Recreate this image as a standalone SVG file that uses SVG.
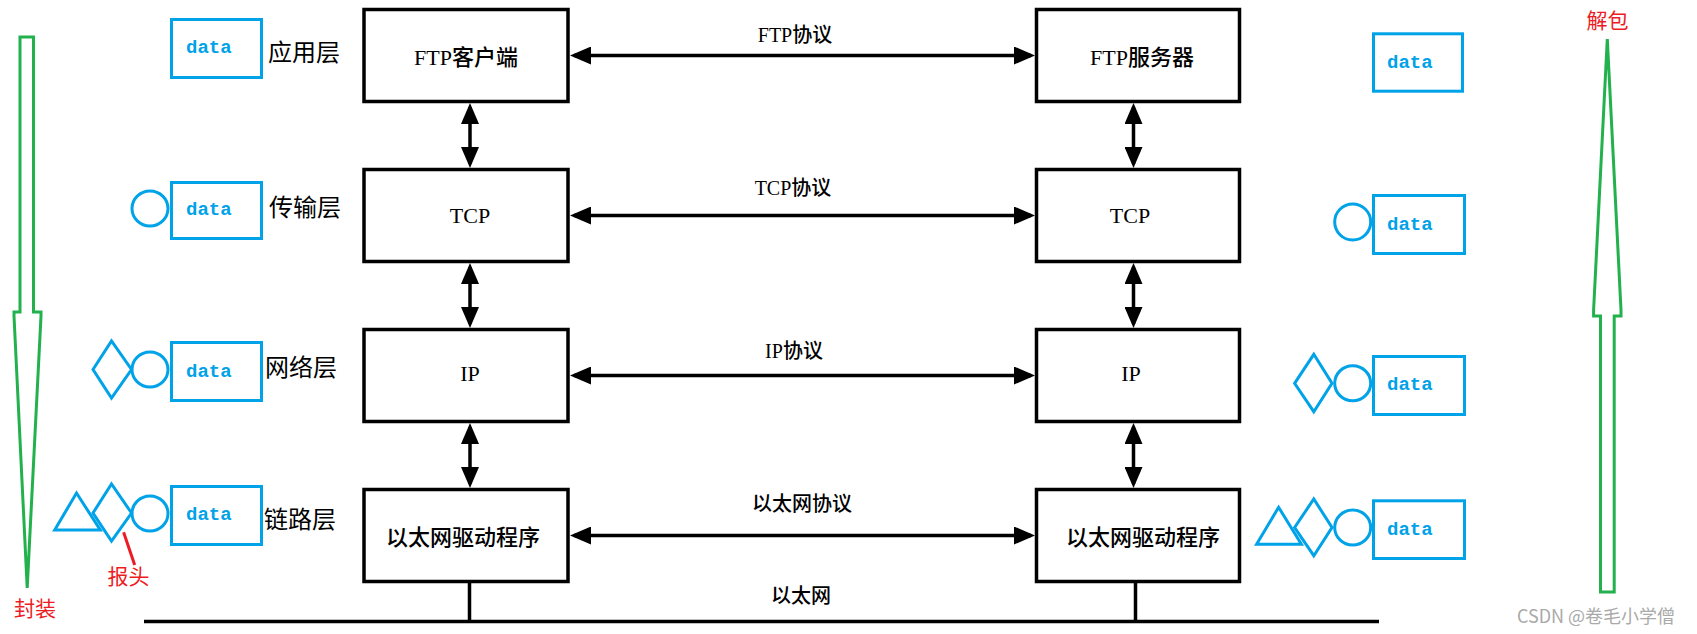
<svg xmlns="http://www.w3.org/2000/svg" width="1697" height="634" viewBox="0 0 1697 634">
<style>
.box{fill:#fff;stroke:#000;stroke-width:3.5}
.conn{stroke:#000;stroke-width:3.5;fill:none}
.blue{fill:none;stroke:#00A2E8;stroke-width:3}
.green{fill:none;stroke:#22B14C;stroke-width:3}
.bt{font-family:"Liberation Serif","Noto Sans CJK SC",serif;font-size:22px;font-weight:500;fill:#000;text-anchor:middle;dominant-baseline:central}
.lbl{font-family:"Liberation Serif","Noto Sans CJK SC",serif;font-size:20px;font-weight:500;fill:#000;text-anchor:middle;dominant-baseline:central}
.layer{font-family:"Liberation Serif","Noto Sans CJK SC",serif;font-size:24px;fill:#000;text-anchor:middle;dominant-baseline:central}
.data{font-family:"Liberation Mono",monospace;font-size:19px;font-weight:bold;fill:#00A2E8}
.red{font-family:"Liberation Serif","Noto Sans CJK SC",serif;font-size:21px;fill:#ED1C24;text-anchor:middle;dominant-baseline:central}
</style>
<defs>
<marker id="ah" markerUnits="userSpaceOnUse" markerWidth="22" markerHeight="18" refX="17" refY="9" orient="auto-start-reverse" viewBox="0 0 22 18">
<path d="M0,0 L21,9 L0,18 z" fill="#000"/>
</marker>
</defs>

<g id="connectors">
<line class="conn" x1="574" y1="55.5" x2="1031" y2="55.5" marker-start="url(#ah)" marker-end="url(#ah)"/>
<line class="conn" x1="574" y1="215.5" x2="1031" y2="215.5" marker-start="url(#ah)" marker-end="url(#ah)"/>
<line class="conn" x1="574" y1="375.5" x2="1031" y2="375.5" marker-start="url(#ah)" marker-end="url(#ah)"/>
<line class="conn" x1="574" y1="535.5" x2="1031" y2="535.5" marker-start="url(#ah)" marker-end="url(#ah)"/>
<line class="conn" x1="470" y1="107" x2="470" y2="164" marker-start="url(#ah)" marker-end="url(#ah)"/>
<line class="conn" x1="470" y1="267" x2="470" y2="324" marker-start="url(#ah)" marker-end="url(#ah)"/>
<line class="conn" x1="470" y1="427" x2="470" y2="484" marker-start="url(#ah)" marker-end="url(#ah)"/>
<line class="conn" x1="1133.5" y1="107" x2="1133.5" y2="164" marker-start="url(#ah)" marker-end="url(#ah)"/>
<line class="conn" x1="1133.5" y1="267" x2="1133.5" y2="324" marker-start="url(#ah)" marker-end="url(#ah)"/>
<line class="conn" x1="1133.5" y1="427" x2="1133.5" y2="484" marker-start="url(#ah)" marker-end="url(#ah)"/>
<line class="conn" x1="469.5" y1="583" x2="469.5" y2="622"/>
<line class="conn" x1="1135.5" y1="583" x2="1135.5" y2="622"/>
<line class="conn" x1="144" y1="621.5" x2="1379" y2="621.5"/>
<text class="lbl" x="795" y="35">FTP协议</text>
<text class="lbl" x="793" y="188">TCP协议</text>
<text class="lbl" x="794" y="351">IP协议</text>
<text class="lbl" x="802" y="504">以太网协议</text>
<text class="lbl" x="801" y="596">以太网</text>
</g>

<g id="ftp-client"><rect class="box" x="364" y="9.5" width="204" height="92"/><text class="bt" x="466" y="57">FTP客户端</text></g>
<g id="tcp-client"><rect class="box" x="364" y="169.5" width="204" height="92"/><text class="bt" x="470" y="215">TCP</text></g>
<g id="ip-client"><rect class="box" x="364" y="329.5" width="204" height="92"/><text class="bt" x="470" y="373">IP</text></g>
<g id="eth-client"><rect class="box" x="364" y="489.5" width="204" height="92"/><text class="bt" x="463" y="537">以太网驱动程序</text></g>

<g id="ftp-server"><rect class="box" x="1036.5" y="9.5" width="203" height="92"/><text class="bt" x="1142" y="57">FTP服务器</text></g>
<g id="tcp-server"><rect class="box" x="1036.5" y="169.5" width="203" height="92"/><text class="bt" x="1130" y="215">TCP</text></g>
<g id="ip-server"><rect class="box" x="1036.5" y="329.5" width="203" height="92"/><text class="bt" x="1131" y="373">IP</text></g>
<g id="eth-server"><rect class="box" x="1036.5" y="489.5" width="203" height="92"/><text class="bt" x="1143" y="537">以太网驱动程序</text></g>

<g id="layer-labels">
<text class="layer" x="304" y="53">应用层</text>
<text class="layer" x="305" y="208">传输层</text>
<text class="layer" x="301" y="368">网络层</text>
<text class="layer" x="300" y="520">链路层</text>
</g>

<g id="left-packets">
<rect class="blue" x="171.5" y="19.5" width="90" height="58"/>
<text class="data" x="186" y="53">data</text>
<rect class="blue" x="171.5" y="182.5" width="90" height="56"/>
<ellipse class="blue" cx="150" cy="208.5" rx="18" ry="17.5"/>
<text class="data" x="186" y="215">data</text>
<rect class="blue" x="171.5" y="342.5" width="90" height="58"/>
<ellipse class="blue" cx="150" cy="369.5" rx="18" ry="17.5"/>
<polygon class="blue" points="93,369.5 111.5,341 131.5,369.5 111.5,398"/>
<text class="data" x="186" y="376.5">data</text>
<rect class="blue" x="171.5" y="486.5" width="90" height="58"/>
<ellipse class="blue" cx="150" cy="513.5" rx="18" ry="17.5"/>
<polygon class="blue" points="93,513 111.5,484 131.5,513 111.5,541"/>
<polygon class="blue" points="54.7,530 76.5,493 100.3,530"/>
<text class="data" x="186" y="520">data</text>
</g>

<g id="right-packets">
<rect class="blue" x="1373.5" y="33.8" width="89" height="57.4"/>
<text class="data" x="1387" y="68.3">data</text>
<rect class="blue" x="1373.5" y="195.5" width="91" height="58"/>
<ellipse class="blue" cx="1352.7" cy="222" rx="18" ry="18"/>
<text class="data" x="1387" y="230">data</text>
<rect class="blue" x="1373.5" y="356.5" width="91" height="58"/>
<ellipse class="blue" cx="1352.7" cy="383.3" rx="18" ry="17.5"/>
<polygon class="blue" points="1294.6,383.3 1313.8,354.3 1332,383.3 1313.8,411.7"/>
<text class="data" x="1387" y="390">data</text>
<rect class="blue" x="1373.5" y="500.8" width="91" height="57.7"/>
<ellipse class="blue" cx="1352.7" cy="527.5" rx="18" ry="17.5"/>
<polygon class="blue" points="1294.6,527.5 1313.8,499 1332,527.5 1313.8,555.7"/>
<polygon class="blue" points="1256.6,544.3 1278.6,507.3 1301.4,544.3"/>
<text class="data" x="1387" y="535">data</text>
</g>

<g id="encapsulate">
<polygon class="green" points="20,37 33.5,37 33.5,312 41,312 41,316 27.2,588 14,316 14,312 20,312"/>
<text class="red" x="35" y="609">封装</text>
</g>
<g id="header-note">
<line x1="123.6" y1="532.3" x2="134.7" y2="565" stroke="#ED1C24" stroke-width="3"/>
<text class="red" x="128.5" y="577">报头</text>
</g>
<g id="decapsulate">
<polygon class="green" points="1607.3,39 1621,310 1621,316 1614.2,316 1614.2,592 1600.5,592 1600.5,316 1593.6,316 1593.6,310"/>
<text class="red" x="1607.5" y="21">解包</text>
</g>
<text x="1596" y="615" font-family="'Noto Sans CJK SC',sans-serif" font-size="18" fill="#aaa" text-anchor="middle" dominant-baseline="central">CSDN @卷毛小学僧</text>
</svg>
